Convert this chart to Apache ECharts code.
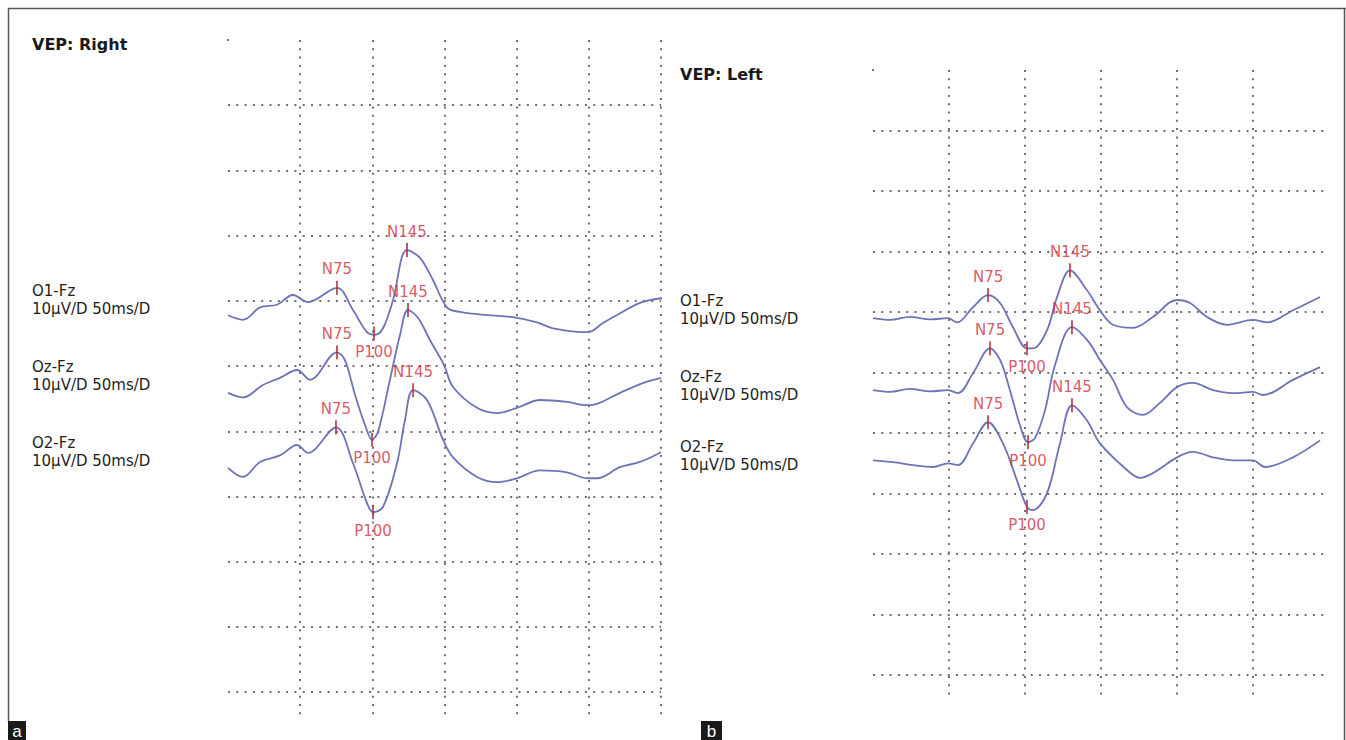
<!DOCTYPE html>
<html>
<head>
<meta charset="utf-8">
<title>VEP</title>
<script src="https://cdn.jsdelivr.net/npm/echarts@6/dist/echarts.min.js"></script>
<style>
html, body { margin: 0; padding: 0; background: #fff; }
#main { width: 1346px; height: 740px; }
</style>
</head>
<body>
<div id="main"></div>
<script>
// traces: [ms from sweep start, grid units down from top line (10 = 1 division)]
var rightO1 = [[0,42.2],[10.4,42.9],[22.2,41.0],[33.9,40.6],[45.0,39.1],[55.4,40.2],[75.5,38.0],[86.6,41.4],[96.3,44.8],[101.8,45.2],[107.4,44.2],[114.3,39.9],[124.0,32.2],[133.0,33.4],[142.0,36.8],[151.7,41.0],[160.7,41.7],[179.4,42.2],[197.4,42.5],[214.1,43.3],[225.2,44.2],[249.4,44.8],[259.8,43.4],[271.6,41.9],[285.4,40.3],[300,39.6]];
var rightOz = [[0,54.1],[10.4,54.8],[24.2,52.9],[36.0,51.8],[47.8,50.6],[56.8,52.1],[75.5,47.9],[81.0,49.1],[88.0,54.4],[94.9,59.0],[99.8,61.3],[103.9,60.1],[112.2,52.1],[119.2,45.2],[124.7,41.4],[131.6,42.6],[139.9,46.0],[149.6,49.8],[155.9,53.2],[172.5,56.4],[186.4,57.2],[200.2,56.4],[216.2,55.2],[234.9,55.5],[248.7,56.0],[255.6,55.8],[271.6,54.1],[287.5,52.6],[300,51.8]];
var rightO2 = [[0,65.6],[10.4,67.0],[22.2,64.7],[36.0,63.7],[47.8,62.1],[55.4,63.3],[74.8,59.4],[86.6,64.9],[96.3,71.0],[100.5,72.4],[107.4,71.6],[117.1,64.9],[122.6,58.3],[128.2,53.7],[137.9,55.2],[149.0,61.3],[155.9,64.0],[172.5,67.0],[186.4,67.8],[200.2,67.2],[216.2,66.0],[234.9,66.3],[248.7,67.2],[255.6,67.2],[271.6,65.5],[285.4,64.7],[300,63.2]];

var leftO1 = [[0,41.0],[11.2,41.3],[24.3,40.8],[37.5,41.2],[49.3,41.0],[55.3,41.7],[65.8,39.2],[75.7,37.2],[83.6,38.5],[92.1,42.5],[101.3,46.0],[105.3,46.0],[114.5,43.0],[121.1,37.5],[129.6,33.1],[140.8,36.4],[149.3,39.7],[157.9,42.1],[171.1,42.6],[184.2,40.8],[200.0,38.0],[208.6,38.5],[219.7,40.8],[232.9,42.1],[250.0,41.3],[259.2,41.7],[276.3,39.7],[294.1,37.5]];
var leftOz = [[0,52.9],[11.2,53.2],[24.3,52.7],[37.5,53.1],[49.3,52.9],[55.9,53.4],[65.8,50.1],[77.0,46.0],[83.6,47.9],[90.1,52.9],[96.7,58.7],[102.0,61.5],[106.6,60.8],[113.2,56.2],[119.7,48.8],[130.9,42.5],[140.8,44.6],[149.3,47.9],[157.9,51.2],[167.1,55.7],[177.6,57.0],[188.8,55.0],[200.0,52.4],[210.5,51.7],[223.7,52.9],[236.8,53.4],[250.0,53.2],[256.6,53.7],[276.3,51.2],[294.1,49.1]];
var leftO2 = [[0,64.5],[13.2,64.8],[26.3,65.3],[39.5,65.6],[49.3,65.0],[55.9,65.3],[65.8,61.7],[75.7,58.2],[85.5,61.7],[94.7,67.8],[101.3,72.2],[105.3,72.7],[114.5,69.9],[123.0,61.7],[130.9,55.4],[140.8,57.9],[149.3,61.7],[167.1,66.1],[175.6,67.4],[184.2,66.6],[200.0,64.0],[210.5,63.1],[223.7,64.0],[236.8,64.5],[250.0,64.5],[257.9,65.6],[276.3,64.0],[294.1,61.2]];

// peak markers: [name, ms, grid units, label side]
var rightPeaks = [
  ['N75', 75.5, 38.0, 'top'], ['P100', 101.2, 45.0, 'bottom'], ['N145', 124.0, 32.2, 'top'],
  ['N75', 75.5, 47.9, 'top'], ['P100', 99.8, 61.3, 'bottom'], ['N145', 124.7, 41.4, 'top'],
  ['N75', 74.8, 59.4, 'top'], ['P100', 100.5, 72.4, 'bottom'], ['N145', 128.2, 53.7, 'top']
];
var leftPeaks = [
  ['N75', 75.7, 37.2, 'top'], ['P100', 101.3, 46.0, 'bottom'], ['N145', 129.6, 33.1, 'top'],
  ['N75', 77.0, 46.0, 'top'], ['P100', 102.0, 61.5, 'bottom'], ['N145', 130.9, 42.5, 'top'],
  ['N75', 75.7, 58.2, 'top'], ['P100', 101.3, 72.2, 'bottom'], ['N145', 130.9, 55.4, 'top']
];

var channels = ['O1-Fz', 'Oz-Fz', 'O2-Fz'];
var scaleText = '10µV/D 50ms/D';

var traceColor = '#6c74b6';
var peakColor = '#cf2f3d';
var textColor = '#1e1e1e';
var font = '"DejaVu Sans", Verdana, sans-serif';
var dots = { color: '#707070', width: 2, type: [2, 6.3] };

function traceSeries(data, i) {
  return {
    type: 'line', xAxisIndex: i, yAxisIndex: i, data: data,
    showSymbol: false, smooth: 0.35, silent: true,
    lineStyle: { color: traceColor, width: 1.8 }
  };
}

function peakSeries(peaks, i) {
  return {
    type: 'scatter', xAxisIndex: i, yAxisIndex: i, z: 5, silent: true,
    symbol: 'rect', symbolSize: [2, 14],
    itemStyle: { color: '#b52d3e' },
    label: { show: true, formatter: '{b}', color: peakColor, fontSize: 15, fontFamily: font, distance: 4 },
    data: peaks.map(function (p) {
      return { name: p[0], value: [p[1], p[2]], label: { position: p[3] } };
    })
  };
}

function xAx(i, showMax) {
  return {
    type: 'value', gridIndex: i, min: 0, max: 300, interval: 50,
    axisLine: { show: false }, axisTick: { show: false }, axisLabel: { show: false },
    splitLine: { show: true, showMinLine: false, showMaxLine: showMax, lineStyle: dots }
  };
}

function yAx(i, max) {
  return {
    type: 'value', gridIndex: i, inverse: true, min: 0, max: max, interval: 10,
    axisLine: { show: false }, axisTick: { show: false }, axisLabel: { show: false },
    splitLine: { show: true, showMinLine: false, showMaxLine: false, lineStyle: dots }
  };
}

function chanText(x, ys) {
  return channels.map(function (c, k) {
    return {
      type: 'text', x: x, y: ys[k],
      style: { text: c + '\n' + scaleText, font: '15px ' + font, fill: textColor, lineHeight: 18 }
    };
  });
}

var chart = echarts.init(document.getElementById('main'), null, { renderer: 'svg' });

chart.setOption({
  backgroundColor: '#fff',
  animation: false,
  grid: [
    { left: 228, top: 40, width: 433, height: 675 },
    { left: 873, top: 70, width: 456, height: 627 }
  ],
  xAxis: [xAx(0, true), xAx(1, false)],
  yAxis: [yAx(0, 103.5), yAx(1, 103.6)],
  series: [
    traceSeries(rightO1, 0), traceSeries(rightOz, 0), traceSeries(rightO2, 0),
    traceSeries(leftO1, 1), traceSeries(leftOz, 1), traceSeries(leftO2, 1),
    peakSeries(rightPeaks, 0), peakSeries(leftPeaks, 1)
  ],
  graphic: [
    { type: 'line', shape: { x1: 8, y1: 8.5, x2: 1346, y2: 8.5 }, style: { stroke: '#555', lineWidth: 1.5 } },
    { type: 'line', shape: { x1: 8.5, y1: 8, x2: 8.5, y2: 721 }, style: { stroke: '#555', lineWidth: 1.5 } },
    { type: 'line', shape: { x1: 1344.5, y1: 8, x2: 1344.5, y2: 740 }, style: { stroke: '#555', lineWidth: 1.5 } },
    { type: 'rect', shape: { x: 227, y: 39, width: 2, height: 2 }, style: { fill: '#707070' } },
    { type: 'rect', shape: { x: 872, y: 69, width: 2, height: 2 }, style: { fill: '#707070' } },
    { type: 'text', x: 32, y: 36, style: { text: 'VEP: Right', font: 'bold 16px ' + font, fill: '#1a1a1a' } },
    { type: 'text', x: 680, y: 66, style: { text: 'VEP: Left', font: 'bold 16px ' + font, fill: '#1a1a1a' } },
    { type: 'rect', shape: { x: 8, y: 721, width: 18, height: 19 }, style: { fill: '#1a1a1a' } },
    { type: 'text', x: 17, y: 731, style: { text: 'a', font: '17px "Liberation Sans", Arial, sans-serif', fill: '#fff', align: 'center', verticalAlign: 'middle' } },
    { type: 'rect', shape: { x: 701, y: 721, width: 21, height: 19 }, style: { fill: '#1a1a1a' } },
    { type: 'text', x: 711.5, y: 731, style: { text: 'b', font: '17px "Liberation Sans", Arial, sans-serif', fill: '#fff', align: 'center', verticalAlign: 'middle' } }
  ].concat(chanText(32, [282, 358, 434])).concat(chanText(680, [292, 368, 438]))
});
</script>
</body>
</html>
